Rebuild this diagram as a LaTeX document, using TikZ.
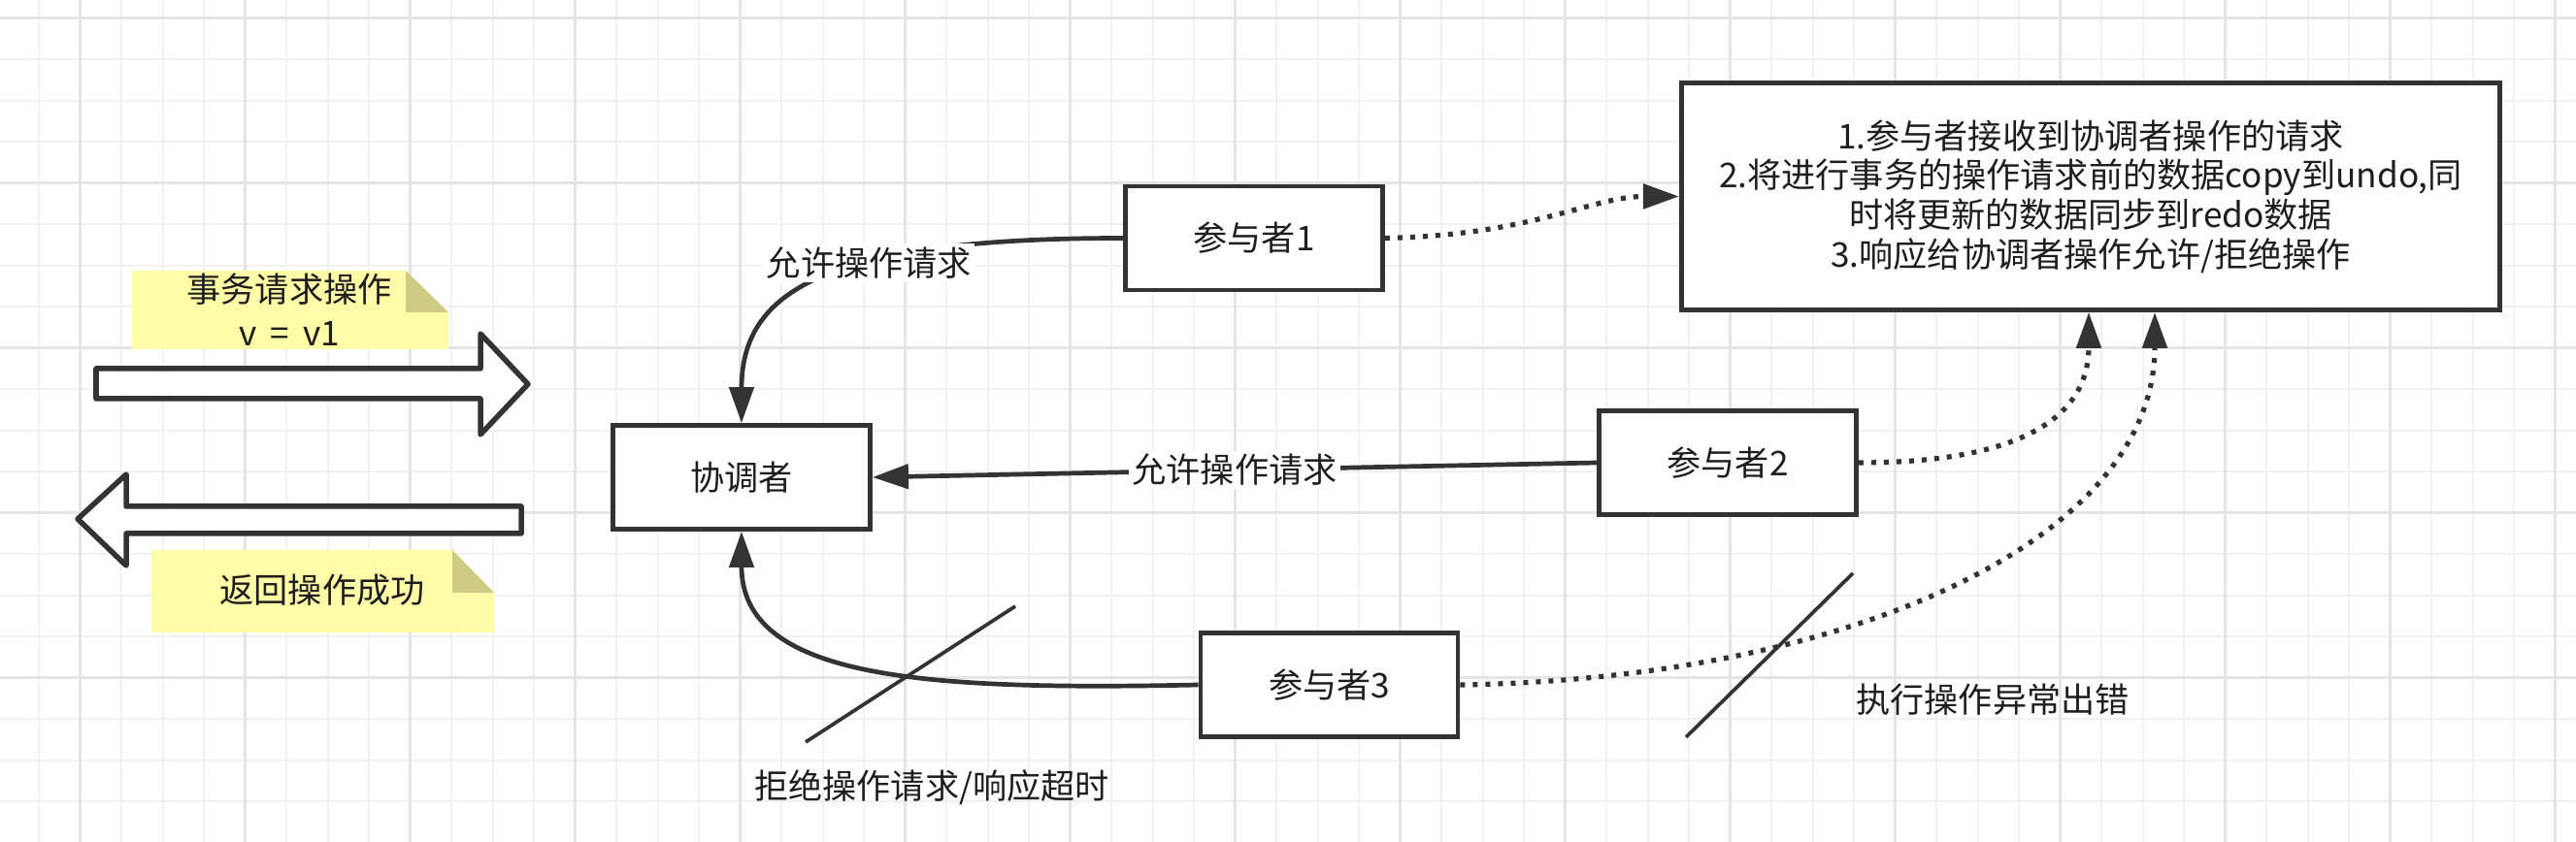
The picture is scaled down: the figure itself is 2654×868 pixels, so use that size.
\documentclass[tikz,border=0pt]{standalone}
\usepackage{fontspec}
\setmainfont{Noto Sans CJK SC}
\usetikzlibrary{arrows.meta}
\definecolor{dk}{RGB}{51,51,51}
\definecolor{gridminor}{RGB}{241,241,241}
\definecolor{gridmajor}{RGB}{229,229,229}
\definecolor{noteyellow}{RGB}{255,252,168}
\definecolor{notefold}{RGB}{206,203,133}
\definecolor{txt}{RGB}{30,30,30}
\begin{document}
\begin{tikzpicture}[x=0.01cm,y=-0.01cm,
  font=\fontsize{10pt}{11.6pt}\selectfont, text=txt,
  box/.style={draw=dk, line width=0.047cm, fill=white, rectangle, minimum width=2.65cm, minimum height=1.07cm, inner sep=0pt},
  conn/.style={draw=dk, line width=0.047cm, -{Triangle[length=0.37cm,width=0.25cm]}},
  dotconn/.style={draw=dk, line width=0.052cm, dash pattern=on 0.05cm off 0.08cm, -{Triangle[length=0.37cm,width=0.25cm]}},
  slash/.style={draw=dk, line width=0.037cm},
  lbl/.style={fill=white, inner sep=1pt},
  blockarrow/.style={draw=dk, fill=white, line width=0.055cm, line join=round},
  note/.style={fill=noteyellow},
  fold/.style={fill=notefold},
  gminor/.style={draw=gridminor, line width=0.02cm},
  gmajor/.style={draw=gridmajor, line width=0.03cm},
]
\fill[white] (0,0) rectangle (2654,868);
\useasboundingbox (0,0) rectangle (2654,868);
\begin{scope}
\clip (0,0) rectangle (2654,868);
\foreach \k in {0,...,61} \draw[gminor] ({40+42.5*\k},0) -- ({40+42.5*\k},868);
\foreach \k in {0,...,19} \draw[gminor] (0,{19+42.5*\k}) -- (2654,{19+42.5*\k});
\foreach \k in {0,...,15} \draw[gmajor] ({82.5+170*\k},0) -- ({82.5+170*\k},868);
\foreach \k in {0,...,4} \draw[gmajor] (0,{19+170*\k}) -- (2654,{19+170*\k});
\end{scope}

% notes
\fill[note] (136,279) -- (418,279) -- (462,322) -- (462,360) -- (136,360) -- cycle;
\fill[fold] (418,279) -- (418,322) -- (462,322) -- cycle;
\node[align=center, font=\fontsize{10pt}{12.8pt}\selectfont] (n1) at (298,319.5) {事务请求操作\\v\hspace{0.4em}=\hspace{0.4em}v1};
\fill[note] (156,567) -- (466,567) -- (509,611) -- (509,652) -- (156,652) -- cycle;
\fill[fold] (466,567) -- (466,611) -- (509,611) -- cycle;
\node (n2) at (332,608) {返回操作成功};

% block arrows
\draw[blockarrow] (99,380) -- (495,380) -- (495,344) -- (544,396) -- (495,448) -- (495,411) -- (99,411) -- cycle;
\draw[blockarrow] (80,535) -- (130,489) -- (130,522) -- (537,522) -- (537,550) -- (130,550) -- (130,583) -- cycle;

% boxes
\node[box] (co) at (764,492) {协调者};
\node[box] (p1) at (1292,245.5) {参与者1};
\node[box] (p2) at (1780,477) {参与者2};
\node[box] (p3) at (1369.5,706) {参与者3};
\node[box, minimum width=8.43cm, minimum height=2.34cm, align=center] (big) at (2154,202.5)
  {1.参与者接收到协调者操作的请求\\2.将进行事务的操作请求前的数据copy到undo,同\\时将更新的数据同步到redo数据\\3.响应给协调者操作允许/拒绝操作};

% connectors to coordinator
\draw[conn] (p1.west) .. controls +(-307,0) and +(0,-136) .. (co.north) node[lbl, pos=0.38] {允许操作请求};
\draw[conn] (p2.west) -- (co.east) node[lbl, midway] {允许操作请求};
\draw[conn] (p3.west) .. controls +(-283,6) and +(0,152) .. (co.south);

% dotted connectors to big box
\draw[dotconn] (p1.east) .. controls +(153,-3) and +(-90,0) .. (big.west);
\draw[dotconn] (p2.east) .. controls +(185,0) and +(0,98) .. ([xshift=-0.02cm]big.south);
\draw[dotconn] (p3.east) .. controls +(394,-6) and +(0,238) .. ([xshift=0.66cm]big.south);

% slashes and labels
\coordinate (s1a) at (830,765);
\coordinate (s1b) at (1046,625);
\draw[slash] (s1a) -- (s1b);
\node (l1) at (960,812) {拒绝操作请求/响应超时};
\coordinate (s2a) at (1737,760);
\coordinate (s2b) at (1909,591);
\draw[slash] (s2a) -- (s2b);
\node (l2) at (2053,721) {执行操作异常出错};
\end{tikzpicture}
\end{document}
